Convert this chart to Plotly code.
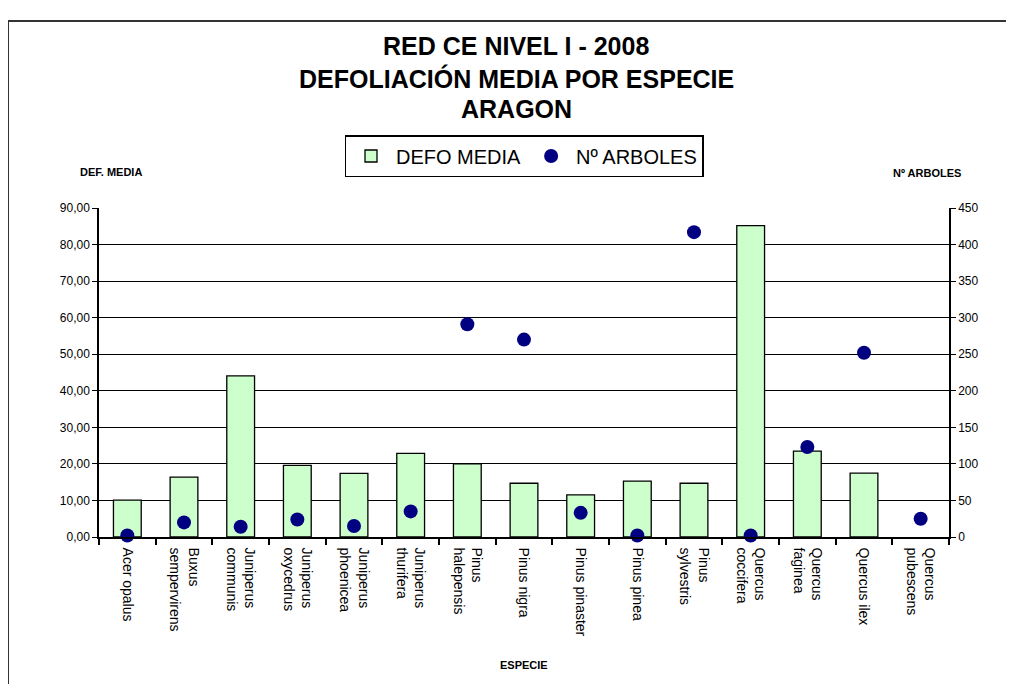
import plotly.graph_objects as go

species = ["Acer opalus", "Buxus<br>sempervirens", "Juniperus<br>communis", "Juniperus<br>oxycedrus",
           "Juniperus<br>phoenicea", "Juniperus<br>thurifera", "Pinus<br>halepensis", "Pinus nigra",
           "Pinus pinaster", "Pinus pinea", "Pinus<br>sylvestris", "Quercus<br>coccifera",
           "Quercus<br>faginea", "Quercus ilex", "Quercus<br>pubescens"]
defo_media = [10.1, 16.4, 44.1, 19.6, 17.4, 22.9, 20.0, 14.7, 11.5, 15.3, 14.7, 85.2, 23.5, 17.5, None]
n_arboles = [2, 20, 14, 24, 15, 35, 291, 270, 33, 2, 417, 2, 123, 252, 25]
left_ticks = [0, 10, 20, 30, 40, 50, 60, 70, 80, 90]
right_ticks = [0, 50, 100, 150, 200, 250, 300, 350, 400, 450]

FONT = "Liberation Sans, Arial, sans-serif"

fig = go.Figure()
fig.add_trace(go.Bar(x=species, y=defo_media, name="DEFO MEDIA",
                     marker=dict(color="#CCFFCC", line=dict(color="black", width=1.3)),
                     width=0.49, yaxis="y"))
fig.add_trace(go.Scatter(x=species, y=n_arboles, name="Nº ARBOLES", mode="markers",
                         marker=dict(color="#000080", size=14), yaxis="y2", cliponaxis=False))

# page body has an 8px margin, so the figure is drawn 8px right/down: compensate in margins
fig.update_layout(
    width=1014, height=684,
    margin=dict(l=91, r=73, t=200, b=155, autoexpand=False),
    paper_bgcolor="white", plot_bgcolor="white",
    separators=",.",
    showlegend=True,
    bargap=0.5,
    font=dict(family=FONT, color="black", size=12),
    legend=dict(orientation="h", x=(524 - 99) / 850, xanchor="center", y=(537 - 135) / 329, yanchor="top",
                bordercolor="black", borderwidth=1.5, bgcolor="white",
                font=dict(size=20), itemwidth=40, traceorder="normal", tracegroupgap=0),
    xaxis=dict(type="category", tickson="boundaries", ticks="outside", ticklen=6,
               tickcolor="black", tickwidth=1.5, showline=True, linecolor="black", linewidth=1.5,
               showgrid=False, tickangle=90, tickfont=dict(size=14), range=[-0.5, 14.5],
               ticklabelstandoff=6, automargin=False),
    yaxis=dict(range=[0, 90], tickvals=left_ticks, tickformat=".2f", showgrid=True,
               gridcolor="black", gridwidth=1.3, showline=True, linecolor="black", linewidth=1.5,
               ticks="outside", ticklen=5, tickcolor="black", zeroline=False, tickfont=dict(size=12),
               automargin=False),
    yaxis2=dict(range=[0, 450], tickvals=right_ticks, overlaying="y", side="right", showgrid=False,
                showline=True, linecolor="black", linewidth=1.5, ticks="outside", ticklen=5,
                tickcolor="black", zeroline=False, tickfont=dict(size=12), automargin=False),
)

def px(xp):
    return (xp - 99) / 850

def py(yp):
    return (537 - yp) / 329

titles = [("RED CE NIVEL I - 2008", 46), ("DEFOLIACIÓN MEDIA POR ESPECIE", 78), ("ARAGON", 109)]
for txt, yy in titles:
    fig.add_annotation(text="<b>" + txt + "</b>", xref="paper", yref="paper", x=px(516), y=py(yy),
                       xanchor="center", yanchor="middle", showarrow=False,
                       font=dict(size=25, color="black"))

fig.add_annotation(text="<b>DEF. MEDIA</b>", xref="paper", yref="paper", x=px(78), y=py(172),
                   xanchor="left", yanchor="middle", showarrow=False, font=dict(size=11))
fig.add_annotation(text="<b>Nº ARBOLES</b>", xref="paper", yref="paper", x=px(963), y=py(173),
                   xanchor="right", yanchor="middle", showarrow=False, font=dict(size=11))
fig.add_annotation(text="<b>ESPECIE</b>", xref="paper", yref="paper", x=px(524), y=py(665),
                   xanchor="center", yanchor="middle", showarrow=False, font=dict(size=11))

fig.add_shape(type="rect", xref="paper", yref="paper", x0=px(8), y0=py(800), x1=px(1100), y1=py(21),
              line=dict(color="#333333", width=2), layer="below")

fig.write_html("out.html")
